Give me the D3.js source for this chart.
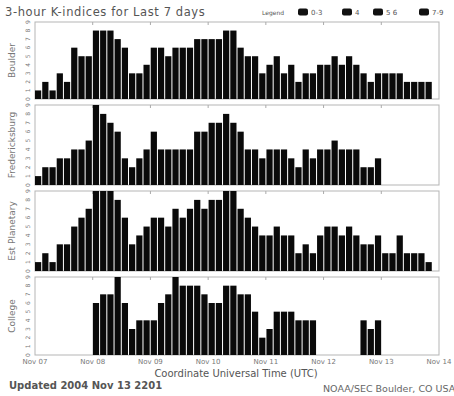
<!DOCTYPE html>
<html>
<head>
<meta charset="utf-8">
<script src="https://cdn.jsdelivr.net/npm/d3@7"></script>
<style>
  body { margin: 0; background: #fff; }
  svg { display: block; font-family: "DejaVu Sans", sans-serif; }
</style>
</head>
<body>
<svg id="chart" width="454" height="396"></svg>
<script>
// 3-hour K-indices, 8 per day, starting Nov 07 00 UTC
const dayLabels = ["Nov 07", "Nov 08", "Nov 09", "Nov 10", "Nov 11", "Nov 12", "Nov 13", "Nov 14"];
const stations = ["Boulder", "Fredericksburg", "Est Planetary", "College"];
const boulder = [1,2,1,3,2,6,5,5, 8,8,8,7,6,3,3,4, 6,6,5,6,6,6,7,7, 7,7,8,8,6,5,5,3, 4,5,3,4,2,3,3,4, 4,5,4,5,4,3,2,3, 3,3,3,2,2,2,2];
const fredericksburg = [1,2,2,3,3,4,4,5, 9,8,7,6,3,2,3,4, 6,4,4,4,4,4,6,6, 7,7,8,7,6,4,4,3, 4,4,4,3,2,4,3,4, 4,5,4,4,4,2,2,3];
const planetary = [1,2,1,3,3,5,6,7, 9,9,9,8,6,3,4,5, 6,6,5,7,6,7,8,7, 8,8,9,9,7,6,5,4, 4,5,4,4,2,3,2,4, 5,5,4,5,4,3,3,4, 2,2,4,2,2,2,1];
const college = [null,null,null,null,null,null,null,null, 6,7,7,9,6,3,4,4, 4,6,7,9,8,8,8,7, 6,6,8,8,7,7,5,2, 3,5,5,5,4,4,4,null, null,null,null,null,null,4,3,4];
const kTicks = [0,1,2,3,4,5,6,7,8,9];
const legendItems = ["0-3", "4", "5 6", "7-9"];

const series = [boulder, fredericksburg, planetary, college];
const panels = [
  { top: 22, bottom: 99 },
  { top: 105, bottom: 185 },
  { top: 191, bottom: 271 },
  { top: 277, bottom: 355 }
];

const svg = d3.select("#chart");
const left = 35, right = 439;

const x = d3.scaleBand()
  .domain(d3.range(56))
  .range([left, right])
  .paddingInner(0.14)
  .paddingOuter(0);

const xDay = d3.scaleLinear().domain([0, 7]).range([left, right]);

// title + legend
svg.append("text")
  .attr("x", 5).attr("y", 16)
  .attr("font-size", 11.5).attr("letter-spacing", 0.6).attr("fill", "#555")
  .text("3-hour K-indices for Last 7 days");

svg.append("text")
  .attr("x", 262).attr("y", 15)
  .attr("font-size", 6).attr("fill", "#555")
  .text("Legend");

const legendX = [298, 342, 373, 419];
legendItems.forEach((lab, i) => {
  svg.append("rect")
    .attr("x", legendX[i]).attr("y", 8.5)
    .attr("width", 10).attr("height", 7).attr("rx", 2)
    .attr("fill", "#111");
  svg.append("text")
    .attr("x", legendX[i] + 13).attr("y", 15)
    .attr("font-size", 7).attr("fill", "#555")
    .text(lab);
});

panels.forEach((p, i) => {
  const y = d3.scaleLinear().domain([0, 9]).range([p.bottom, p.top]);
  const g = svg.append("g");

  g.append("rect")
    .attr("x", left).attr("y", p.top)
    .attr("width", right - left).attr("height", p.bottom - p.top)
    .attr("fill", "#fff").attr("stroke", "#b5b5b5").attr("stroke-width", 1);

  // faint day ticks on the frame
  g.selectAll(".dtick")
    .data(d3.range(1, 7))
    .enter().append("line")
    .attr("x1", d => xDay(d)).attr("x2", d => xDay(d))
    .attr("y1", p.top).attr("y2", p.top + 3)
    .attr("stroke", "#aaa");

  const vals = series[i].map((v, k) => ({ k, v })).filter(d => d.v !== null);
  g.selectAll(".bar")
    .data(vals)
    .enter().append("rect")
    .attr("x", d => x(d.k))
    .attr("width", x.bandwidth())
    .attr("y", d => y(d.v))
    .attr("height", d => y(0) - y(d.v))
    .attr("fill", "#0a0a0a");

  // sideways tick digits
  g.selectAll(".ky")
    .data(kTicks)
    .enter().append("text")
    .attr("transform", d => `translate(30,${y(d)}) rotate(-90)`)
    .attr("text-anchor", "middle")
    .attr("font-size", 6).attr("fill", "#777")
    .text(d => d);

  g.append("text")
    .attr("transform", `translate(15,${(p.top + p.bottom) / 2}) rotate(-90)`)
    .attr("text-anchor", "middle")
    .attr("font-size", 9).attr("fill", "#777")
    .text(stations[i]);
});

// bottom axis labels
svg.selectAll(".xlab")
  .data(dayLabels)
  .enter().append("text")
  .attr("x", (d, i) => xDay(i))
  .attr("y", 364)
  .attr("text-anchor", "middle")
  .attr("font-size", 7).attr("fill", "#777")
  .text(d => d);

svg.append("text")
  .attr("x", 236).attr("y", 377)
  .attr("text-anchor", "middle")
  .attr("font-size", 10).attr("fill", "#555")
  .text("Coordinate Universal Time (UTC)");

svg.append("text")
  .attr("x", 9).attr("y", 389)
  .attr("font-size", 10).attr("font-weight", "bold").attr("fill", "#555")
  .text("Updated 2004 Nov 13 2201");

svg.append("text")
  .attr("x", 323).attr("y", 392)
  .attr("font-size", 9.5).attr("fill", "#666")
  .text("NOAA/SEC Boulder, CO USA");
</script>
</body>
</html>
